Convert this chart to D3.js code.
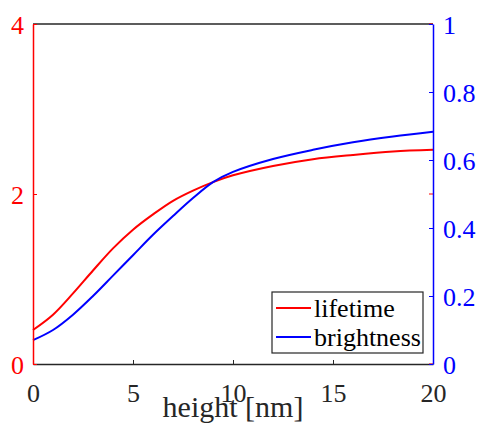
<!DOCTYPE html>
<html>
<head>
<meta charset="utf-8">
<script src="https://cdn.jsdelivr.net/npm/d3@7"></script>
<style>
  body { margin: 0; background: #fff; }
  svg text { font-family: "Liberation Serif", "Times New Roman", serif; }
</style>
</head>
<body>
<div id="chart"></div>
<script>
// Data
const heights = [0, 1, 2, 3, 4, 5, 6, 7, 8, 9, 10, 12, 14, 16, 18, 20];
const lifetime = [0.40, 0.58, 0.83, 1.10, 1.36, 1.58, 1.76, 1.92, 2.04, 2.14, 2.22, 2.33, 2.41, 2.46, 2.50, 2.52];
const brightness = [0.07, 0.10, 0.145, 0.20, 0.26, 0.32, 0.38, 0.435, 0.488, 0.535, 0.565, 0.603, 0.630, 0.652, 0.669, 0.683];
const xTicks = [0, 5, 10, 15, 20];
const leftTicks = [0, 2, 4];
const rightTicks = [0, 0.2, 0.4, 0.6, 0.8, 1];
const legendNames = ['lifetime', 'brightness'];

const W = 478, H = 423;
const m = { left: 33, right: 45, top: 24, bottom: 59 };
const red = '#ff0000', blue = '#0000ff', dark = '#262626';
const serif = '"Liberation Serif", "Times New Roman", serif';

const svg = d3.select('#chart').append('svg')
    .attr('width', W).attr('height', H);

const x = d3.scaleLinear().domain([0, 20]).range([m.left, W - m.right]);
const yL = d3.scaleLinear().domain([0, 4]).range([H - m.bottom, m.top]);
const yR = d3.scaleLinear().domain([0, 1]).range([H - m.bottom, m.top]);

// curves
const line = (yScale, vals) => d3.line()
    .x((d, i) => x(heights[i]))
    .y(d => yScale(d))
    .curve(d3.curveCatmullRom.alpha(0.5))(vals);

svg.append('path').attr('d', line(yL, lifetime))
   .attr('fill', 'none').attr('stroke', red).attr('stroke-width', 2);
svg.append('path').attr('d', line(yR, brightness))
   .attr('fill', 'none').attr('stroke', blue).attr('stroke-width', 2);

// top border
svg.append('line')
   .attr('x1', x(0)).attr('x2', x(20))
   .attr('y1', m.top).attr('y2', m.top)
   .attr('stroke', dark).attr('stroke-width', 1.5);

// bottom axis
const xAxis = svg.append('g')
    .attr('transform', `translate(0,${H - m.bottom})`)
    .call(d3.axisBottom(x).tickValues(xTicks).tickSizeInner(-4).tickSizeOuter(0).tickPadding(20));
xAxis.attr('font-family', null);
xAxis.select('.domain').attr('stroke', dark).attr('stroke-width', 1.5);
xAxis.selectAll('line').attr('stroke', dark);
xAxis.selectAll('text').attr('fill', dark).attr('font-size', 26)
     .style('font-family', serif);

// left axis
const lAxis = svg.append('g')
    .attr('transform', `translate(${m.left},0)`)
    .call(d3.axisLeft(yL).tickValues(leftTicks).tickFormat(d3.format('d'))
          .tickSizeInner(-4).tickSizeOuter(0).tickPadding(9));
lAxis.attr('font-family', null);
lAxis.select('.domain').attr('stroke', red).attr('stroke-width', 1.5);
lAxis.selectAll('line').attr('stroke', red);
lAxis.selectAll('text').attr('fill', red).attr('font-size', 26).attr('dy', '0.38em')
     .style('font-family', serif);

// red ticks mirrored on the right side
svg.append('g').selectAll('line').data(leftTicks).join('line')
   .attr('x1', W - m.right - 4).attr('x2', W - m.right)
   .attr('y1', d => yL(d)).attr('y2', d => yL(d))
   .attr('stroke', red).attr('stroke-width', 1);

// right axis
const rAxis = svg.append('g')
    .attr('transform', `translate(${W - m.right},0)`)
    .call(d3.axisRight(yR).tickValues(rightTicks).tickFormat(d => String(d))
          .tickSizeInner(-4).tickSizeOuter(0).tickPadding(10));
rAxis.attr('font-family', null);
rAxis.select('.domain').attr('stroke', blue).attr('stroke-width', 1.5);
rAxis.selectAll('line').attr('stroke', blue);
rAxis.selectAll('text').attr('fill', blue).attr('font-size', 26).attr('dy', '0.38em')
     .style('font-family', serif);

// x label
svg.append('text')
   .attr('x', (x(0) + x(20)) / 2).attr('y', 417)
   .attr('text-anchor', 'middle').attr('font-size', 30).attr('fill', dark)
   .style('font-family', serif)
   .text('height [nm]');

// legend
const lg = svg.append('g').attr('transform', 'translate(272,292)');
lg.append('rect').attr('width', 151).attr('height', 61)
  .attr('fill', '#fff').attr('stroke', dark).attr('stroke-width', 1.2);
const items = lg.selectAll('g.item').data(legendNames).join('g')
  .attr('transform', (d, i) => `translate(0,${16 + i * 29})`);
items.append('line').attr('x1', 4).attr('x2', 39).attr('y1', 0).attr('y2', 0)
  .attr('stroke', (d, i) => i === 0 ? red : blue).attr('stroke-width', 2);
items.append('text').attr('x', 42).attr('y', 9)
  .attr('font-size', 26).attr('fill', '#000')
  .style('font-family', serif).text(d => d);
</script>
</body>
</html>
